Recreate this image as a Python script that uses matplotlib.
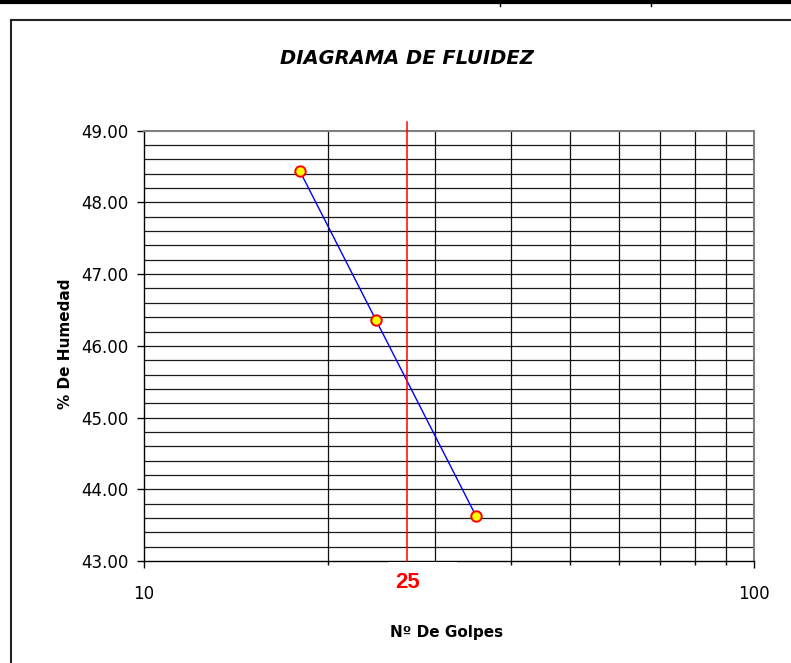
import numpy as np
import matplotlib
matplotlib.use('Agg')
import matplotlib.pyplot as plt
from matplotlib.lines import Line2D
from matplotlib.patches import Rectangle
from matplotlib.ticker import FixedLocator, NullFormatter, FuncFormatter
import matplotlib.transforms as mtransforms

# ── Datos ─────────────────────────────────────────────────────────────────────
golpes = [18, 24, 35]              # Nº de golpes
humedad = [48.44, 46.36, 43.63]    # % de humedad

x_min, x_max = 10, 100
y_min, y_max = 43.0, 49.0
y_major = [43, 44, 45, 46, 47, 48, 49]
y_grid_step = 0.2
x_grid = [20, 30, 40, 50, 60, 70, 80, 90]
x_labels = [10, 100]

linea_x = 27          # posición de la línea roja tal como aparece en el gráfico
linea_texto = '25'

W, H = 791, 663


def fx(px):
    return px / W


def fy(py):
    return 1 - py / H


fig = plt.figure(figsize=(W / 100, H / 100), dpi=100)
ax = fig.add_axes([fx(144), fy(561), fx(754) - fx(144), fy(130.7) - fy(561)])

ax.set_xscale('log')
ax.set_xlim(x_min, x_max)
ax.set_ylim(y_min, y_max)

# ── rejilla ──────────────────────────────────────────────────────────────────
for yv in np.arange(y_min + y_grid_step, y_max - 1e-6, y_grid_step):
    ax.axhline(yv, color='#1a1a1a', lw=0.9, zorder=1)
for xv in x_grid:
    ax.axvline(xv, color='#111111', lw=0.9, zorder=1)

# ── serie ────────────────────────────────────────────────────────────────────
ax.plot(golpes, humedad, color='#0000FF', lw=1.0, zorder=3)
ax.plot(golpes, humedad, ls='none', marker='o', markersize=7.5,
        markerfacecolor='#FFFF00', markeredgecolor='#FF0000',
        markeredgewidth=1.4, zorder=4)

ax.axvline(linea_x, ymin=0, ymax=1.021, color='#FF0000', lw=1.1,
           clip_on=False, zorder=3)

# ── ejes ─────────────────────────────────────────────────────────────────────
ax.yaxis.set_major_locator(FixedLocator(y_major))
ax.yaxis.set_major_formatter(FuncFormatter(lambda v, p: f'{v:.2f}'))
ax.xaxis.set_major_locator(FixedLocator(x_labels))
ax.xaxis.set_major_formatter(FuncFormatter(lambda v, p: f'{v:g}'))
ax.xaxis.set_minor_locator(FixedLocator(x_grid))
ax.xaxis.set_minor_formatter(NullFormatter())
ax.yaxis.set_minor_locator(FixedLocator([]))

ax.tick_params(axis='y', which='major', direction='out', length=5, width=1,
               pad=6, labelsize=12, colors='black')
ax.tick_params(axis='x', which='major', direction='out', length=5, width=1,
               pad=12, labelsize=12)
ax.tick_params(axis='x', which='minor', direction='out', length=3, width=1)

for s in ('left', 'bottom'):
    ax.spines[s].set_color('black')
    ax.spines[s].set_linewidth(1.0)
for s in ('top', 'right'):
    ax.spines[s].set_color('#808080')
    ax.spines[s].set_linewidth(1.5)

# ── textos ───────────────────────────────────────────────────────────────────
fig.text(fx(407), fy(58), 'DIAGRAMA DE FLUIDEZ', ha='center', va='center',
         fontsize=14, fontweight='bold', fontstyle='italic')
fig.text(fx(65), fy(344), '% De Humedad', ha='center', va='center',
         rotation=90, fontsize=11, fontweight='bold')
fig.text(fx(447), fy(633), 'Nº De Golpes', ha='center', va='center',
         fontsize=11, fontweight='bold')

# caja blanca del rótulo "25" que tapa parte del eje
fig.add_artist(Rectangle((fx(388), fy(600)), fx(457) - fx(388), fy(562) - fy(600),
                         transform=fig.transFigure, facecolor='white',
                         edgecolor='none', zorder=5))
trans = mtransforms.blended_transform_factory(ax.transData, fig.transFigure)
fig.text(linea_x, fy(582), linea_texto, transform=trans, ha='center', va='center',
         fontsize=16, fontweight='bold', color='#FF0000',
         family='Liberation Sans', zorder=6)

# ── marco de la hoja ────────────────────────────────────────────────────────
fig.add_artist(Line2D([0, 1], [fy(2), fy(2)], transform=fig.transFigure,
                      color='black', lw=3.0))
for px in (500, 651):
    fig.add_artist(Line2D([fx(px), fx(px)], [fy(0), fy(6)],
                          transform=fig.transFigure, color='black', lw=1.0))
fig.add_artist(Line2D([fx(11), fx(11)], [fy(20), 0], transform=fig.transFigure,
                      color='#222222', lw=1.5))
fig.add_artist(Line2D([fx(11), 1], [fy(20), fy(20)], transform=fig.transFigure,
                      color='#222222', lw=1.5))

fig.savefig('out.png', dpi=100)
